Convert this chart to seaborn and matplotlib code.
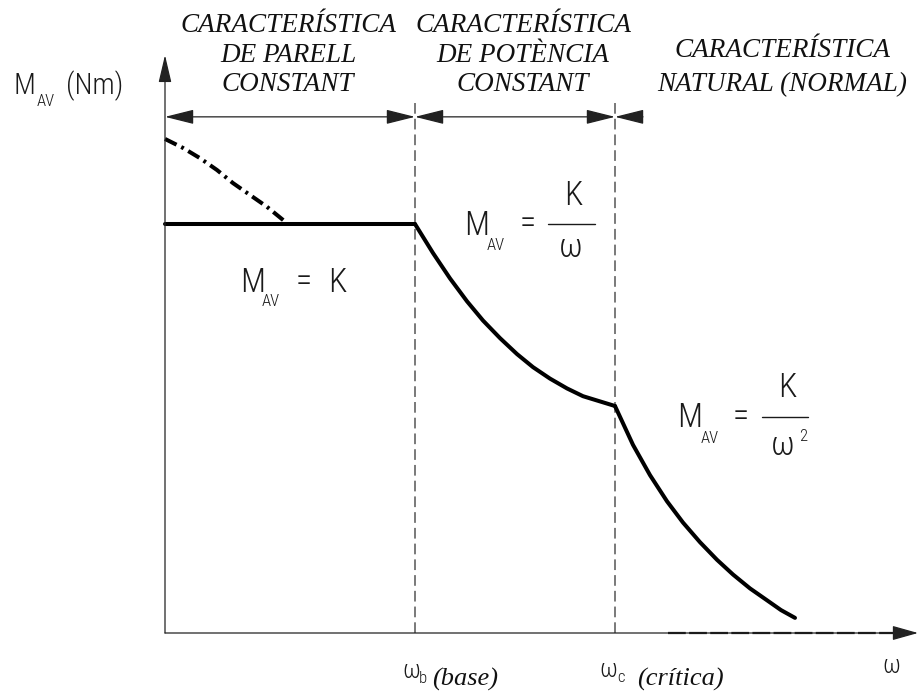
import matplotlib
matplotlib.use("Agg")
import matplotlib.pyplot as plt
import matplotlib.transforms as mtransforms
from matplotlib.lines import Line2D
import seaborn as sns

# Torque–speed characteristic of a drive: ω in units of ω_b, torque in units of K/ω_b
omega_b = 1.0
omega_c = 1.8

omega_const = [0.0, 1.0]
torque_const = [1.0, 1.0]

omega_power = [1.0, 1.072, 1.14, 1.208, 1.272, 1.34, 1.408, 1.472, 1.54, 1.608, 1.672, 1.736, 1.8]
torque_power = [1.0, 0.929, 0.867, 0.811, 0.764, 0.721, 0.682, 0.650, 0.622, 0.598, 0.579, 0.567, 0.555]

omega_natural = [1.8, 1.872, 1.94, 2.008, 2.072, 2.14, 2.208, 2.272, 2.34, 2.408, 2.464, 2.52]
torque_natural = [0.555, 0.460, 0.386, 0.322, 0.270, 0.222, 0.179, 0.143, 0.109, 0.080, 0.056, 0.037]

omega_dashdot = [0.0, 0.072, 0.14, 0.208, 0.272, 0.34, 0.408, 0.488]
torque_dashdot = [1.208, 1.186, 1.161, 1.132, 1.100, 1.071, 1.042, 1.002]

region_titles = [
    ["CARACTERÍSTICA", "DE PARELL", "CONSTANT"],
    ["CARACTERÍSTICA", "DE POTÈNCIA", "CONSTANT"],
    ["CARACTERÍSTICA", "NATURAL (NORMAL)"],
]

sns.set_theme(style="white")
ROMANS = dict(family=["Roboto Condensed", "Roboto", "Lato", "DejaVu Sans"], weight="light", color="#1a1a1a")
SERIF_IT = dict(family=["Liberation Serif", "DejaVu Serif"], style="italic", color="#111111")

W, H = 919, 693
fig = plt.figure(figsize=(W / 100, H / 100), dpi=100)
ax = fig.add_axes([0, 0, 1, 1])
ax.set_xlim(-0.66, 3.016)
ax.set_ylim(-0.1467, 1.5477)
ax.set_axis_off()

# pixel placement helper for annotations (origin top-left)
PX = mtransforms.Affine2D().scale(1 / W, -1 / H).translate(0, 1) + fig.transFigure

axis_kw = dict(color="#222222", lw=0.9, shrinkA=0, shrinkB=0, mutation_scale=10)

# axes with arrow heads
ax.annotate("", xy=(3.012, 0), xytext=(0, 0),
            arrowprops=dict(arrowstyle="-|>,head_length=1.6,head_width=0.45", **axis_kw))
ax.annotate("", xy=(0, 1.413), xytext=(0, 0),
            arrowprops=dict(arrowstyle="-|>,head_length=1.7,head_width=0.4", **axis_kw))
ax.plot([2.012, 2.96], [0, 0], color="#111111", lw=1.6, ls=(0, (8, 1.5)))

# dashed boundaries at ω_b and ω_c
ax.vlines([omega_b, omega_c], 0, 1.296, colors="#555555", lw=1.1, linestyles=(0, (7, 3.3)))

# dimension line over the three regions
dim_y = 1.262
edges = [0.0, omega_b, omega_c, 1.912]
dim_kw = dict(color="#222222", lw=0.9, shrinkA=0, shrinkB=0, mutation_scale=10)
for a, b in [(edges[0], edges[1]), (edges[1], edges[2])]:
    ax.annotate("", xy=(b, dim_y), xytext=(a, dim_y),
                arrowprops=dict(arrowstyle="<|-|>,head_length=1.8,head_width=0.45", **dim_kw))
ax.annotate("", xy=(edges[2], dim_y), xytext=(edges[3], dim_y),
            arrowprops=dict(arrowstyle="-|>,head_length=1.8,head_width=0.45", **dim_kw))

# characteristic curves
for xs, ys in [(omega_const, torque_const), (omega_power, torque_power), (omega_natural, torque_natural)]:
    sns.lineplot(x=xs, y=ys, ax=ax, color="black", lw=2.9, estimator=None, sort=False,
                 solid_joinstyle="round")
sns.lineplot(x=omega_dashdot, y=torque_dashdot, ax=ax, color="black", lw=2.9,
             estimator=None, sort=False, linestyle=(0, (3.2, 1.3, 0.7, 1.3)))

# region titles
title_pos = [(288, [32, 62, 91]), (523, [32, 62, 91]), (782, [57, 91])]
for lines, (cx, ys) in zip(region_titles, title_pos):
    for s, y in zip(lines, ys):
        ax.text(cx, y, s, transform=PX, ha="center", va="baseline", fontsize=19.5, **SERIF_IT)


def t(x, y, s, size, ha="left", va="baseline"):
    ax.text(x, y, s, transform=PX, ha=ha, va=va, fontsize=size, **ROMANS)


def bar(x0, x1, y):
    fig.add_artist(Line2D([x0, x1], [y, y], transform=PX, lw=1.0, color="#1a1a1a"))


# y-axis label
t(13, 94, "M", 21)
t(37, 106, "AV", 12)
t(66, 94, "(Nm)", 21)

# M_AV = K
t(240, 292, "M", 24)
t(262, 306, "AV", 12)
t(304, 282, "=", 24, ha="center", va="center")
t(328, 292, "K", 24)

# M_AV = K / ω
t(464, 235, "M", 24)
t(487, 250, "AV", 12)
t(528, 224, "=", 24, ha="center", va="center")
bar(548, 595, 224)
t(573, 205, "K", 24, ha="center")
t(571, 257, "ω", 24, ha="center")

# M_AV = K / ω²
t(677, 427, "M", 24)
t(701, 443, "AV", 12)
t(741, 417, "=", 24, ha="center", va="center")
bar(762, 808, 417)
t(787, 397, "K", 24, ha="center")
t(783, 455, "ω", 24, ha="center")
t(799, 441, "2", 12)

# speed marks on the ω axis
t(402, 678, "ω", 18)
t(419, 683, "b", 12)
ax.text(432, 686, "(base)", transform=PX, ha="left", va="baseline", fontsize=19, **SERIF_IT)
t(599, 677, "ω", 18)
t(617, 682, "c", 12)
ax.text(637, 686, "(crítica)", transform=PX, ha="left", va="baseline", fontsize=19, **SERIF_IT)
t(882, 673, "ω", 18)

fig.savefig("out.png", dpi=100, facecolor="white")
